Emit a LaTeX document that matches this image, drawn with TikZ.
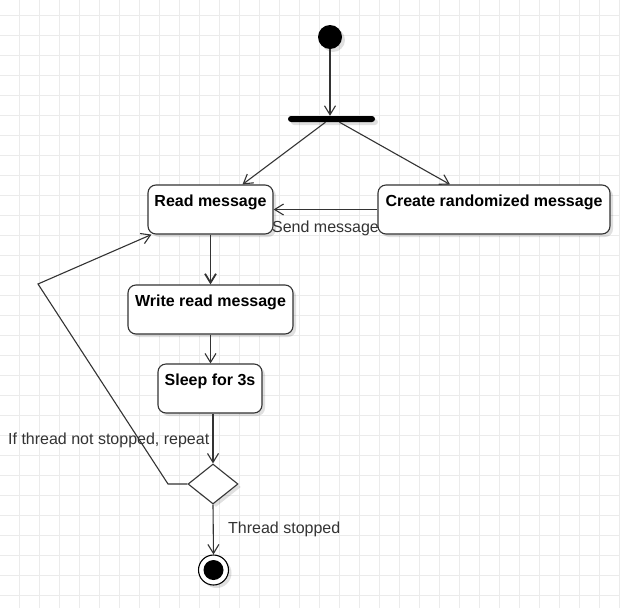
\documentclass[tikz,border=0pt]{standalone}
\usepackage{fontspec}
\setmainfont{Liberation Sans}
\usetikzlibrary{arrows.meta,shapes.geometric,shadows}

\definecolor{gridc}{HTML}{EBEBEB}
\definecolor{linec}{HTML}{333333}
\definecolor{textc}{HTML}{333333}

\begin{document}
\begin{tikzpicture}[
    x=1pt, y=-1pt,
    every node/.style={font=\fontsize{16}{19}\selectfont},
    shade/.style={drop shadow={shadow xshift=3pt, shadow yshift=-3pt, opacity=0.12, fill=black}},
    activity/.style={draw=linec, line width=1.1pt, rounded corners=8, fill=white, shade,
        inner sep=0pt, label={[anchor=north, yshift=-7pt, font=\fontsize{16}{19}\selectfont\bfseries]north:#1}},
    decision/.style={diamond, draw=linec, line width=1.1pt, fill=white, shade, inner sep=0pt,
        minimum width=50, minimum height=40},
    arrow/.style={-{Straight Barb[length=9pt,width=11pt]}, draw=linec, line width=1.1pt},
    lbl/.style={text=textc, inner sep=0pt}
]
    % canvas and grid
    \useasboundingbox (0,0) rectangle (620,608);
    \fill[white] (0,0) rectangle (620,608);
    \foreach \gx in {19,39,...,619} \draw[gridc, line width=1pt] (\gx,0) -- (\gx,608);
    \foreach \gy in {15,35,...,595} \draw[gridc, line width=1pt] (0,\gy) -- (620,\gy);

    % Start and fork
    \node[circle, fill=black, minimum size=24, inner sep=0pt, shade] (start) at (330,37) {};
    \node[rectangle, fill=black, rounded corners=3, minimum width=87, minimum height=6,
        inner sep=0pt, shade] (fork) at (331.5,119) {};

    % Activities
    \node[activity=Read message, minimum width=125, minimum height=49] (read) at (210.5,209.5) {};
    \node[activity=Create randomized message, minimum width=232, minimum height=49] (create) at (494,209.5) {};
    \node[activity=Write read message, minimum width=165, minimum height=49] (write) at (210.5,309.5) {};
    \node[activity=Sleep for 3s, minimum width=104, minimum height=49] (sleep) at (210,388.5) {};

    % Decision and end
    \node[decision] (check) at (213,484) {};
    \node[circle, draw=black, line width=1.1pt, fill=white, minimum size=30, inner sep=0pt, shade] (stop) at (213.5,570) {};
    \node[circle, fill=black, minimum size=20, inner sep=0pt] (stopdot) at (stop.center) {};

    % Arrows
    \draw[arrow] (start.south) -- (start.south |- fork.north);
    \draw[arrow] ([xshift=-6pt]fork.south) -- ([xshift=32pt]read.north);
    \draw[arrow] ([xshift=8pt]fork.south) -- ([xshift=-44pt]create.north);
    \draw[arrow] (create.west) -- (read.east)
        node[lbl, midway, yshift=-19pt] (sendlbl) {Send message};
    \draw[arrow, line width=1.8pt] (read.south) -- (write.north);
    \draw[arrow] (write.south) -- (write.south |- sleep.north);
    \draw[arrow] (check.north |- sleep.south) -- (check.north);
    \draw[arrow] (check.south) -- (stop.north);

    % Loop back
    \coordinate (loopa) at (168,484);
    \coordinate (loopb) at (38,284);
    \coordinate (loopc) at ([xshift=4pt]read.south west);
    \draw[arrow] (check.west) -- (loopa) -- (loopb) -- (loopc);

    % Labels
    \node[lbl, anchor=west] (repeatlbl) at (8,440) {If thread not stopped, repeat};
    \node[lbl, anchor=west] (stoplbl) at (228,529) {Thread stopped};
\end{tikzpicture}
\end{document}
